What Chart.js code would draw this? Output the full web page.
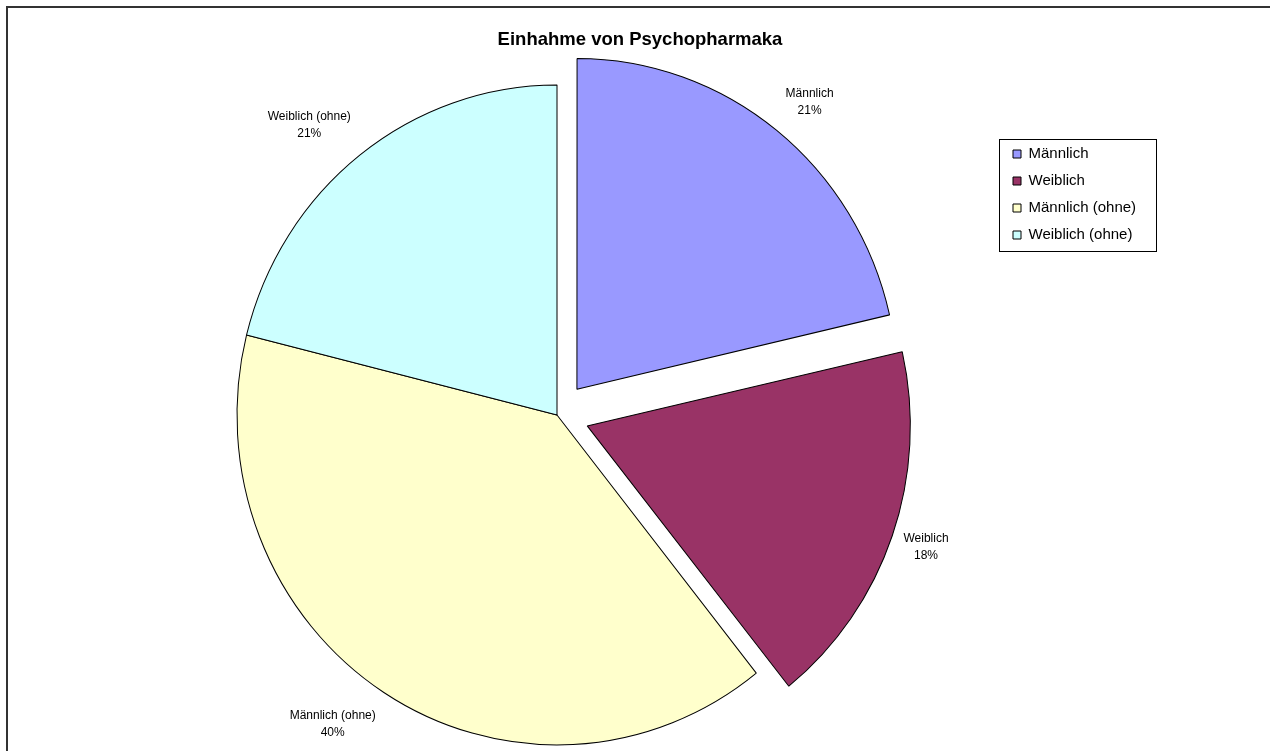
<!DOCTYPE html>
<html>
<head>
<meta charset="utf-8">
<script src="https://cdn.jsdelivr.net/npm/chart.js@4/dist/chart.umd.min.js"></script>
<style>
html, body { margin: 0; padding: 0; background: #ffffff; }
#wrap { width: 1270px; height: 751px; position: relative; overflow: hidden; }
canvas { display: block; }
</style>
</head>
<body>
<div id="wrap"><canvas id="c" width="1270" height="751"></canvas></div>
<script>
// ---- data ----
const categories = ['Männlich', 'Weiblich', 'Männlich (ohne)', 'Weiblich (ohne)'];
const shares = [21.4, 17.9, 39.6, 21.1];
const chartTitle = 'Einhahme von Psychopharmaka';

const FONT = "'Liberation Sans', Arial, Helvetica, sans-serif";
const PIE_SCALE_Y = 1.031; // the original pie is slightly taller than wide

// outer frame (top + left edges visible)
const framePlugin = {
  id: 'frame',
  beforeDraw(chart) {
    const ctx = chart.ctx;
    ctx.save();
    ctx.strokeStyle = '#333333';
    ctx.lineWidth = 2;
    ctx.strokeRect(7, 7, 1400, 900);
    ctx.restore();
  }
};

// place pie centre and legend like the Excel original
const layoutFix = {
  id: 'layoutFix',
  afterLayout(chart) {
    const ca = chart.chartArea;
    const cx = 557, cy = 415, half = 345;
    ca.left = cx - half; ca.right = cx + half;
    ca.top = cy - half; ca.bottom = cy + half;
    ca.width = 2 * half; ca.height = 2 * half;
    const lg = chart.legend;
    const h = lg.height;
    lg.left = 1001; lg.top = 134.5;
    lg.right = lg.left + lg.width; lg.bottom = lg.top + h;
  }
};

// slight vertical stretch of the pie
const ellipse = {
  id: 'ellipse',
  beforeDatasetsDraw(chart) {
    const ctx = chart.ctx;
    const ca = chart.chartArea;
    const cx = (ca.left + ca.right) / 2, cy = (ca.top + ca.bottom) / 2;
    ctx.save();
    ctx.translate(cx, cy);
    ctx.scale(1, PIE_SCALE_Y);
    ctx.translate(-cx, -cy);
  },
  afterDatasetsDraw(chart) {
    chart.ctx.restore();
  }
};

// legend frame
const legendBorder = {
  id: 'legendBorder',
  afterDraw(chart) {
    const lg = chart.legend;
    const ctx = chart.ctx;
    const pad = lg.options.labels.padding;
    const colW = lg.columnSizes && lg.columnSizes[0] ? lg.columnSizes[0].width : 120;
    ctx.save();
    ctx.strokeStyle = '#000000';
    ctx.lineWidth = 1;
    const x = Math.round(lg.left - 2) + 0.5;
    const y = Math.round(lg.top + 4) + 0.5;
    const w = Math.round(colW + 2 * pad + 10);
    ctx.strokeRect(x, y, w, 112);
    ctx.restore();
  }
};

// outside-end data labels
const sliceLabels = {
  id: 'sliceLabels',
  afterDatasetsDraw(chart) {
    const ctx = chart.ctx;
    const meta = chart.getDatasetMeta(0);
    const data = chart.data.datasets[0].data;
    const total = data.reduce((a, b) => a + b, 0);
    ctx.save();
    ctx.font = '12px ' + FONT;
    ctx.fillStyle = '#000000';
    ctx.textAlign = 'center';
    ctx.textBaseline = 'middle';
    const lineGap = 17;
    meta.data.forEach((arc, i) => {
      const p = arc.getProps(['x', 'y', 'startAngle', 'endAngle', 'outerRadius'], true);
      const off = (arc.options.offset || 0) / 4; // Chart.js translates arcs by offset/4
      const a = (p.startAngle + p.endAngle) / 2;
      const r = off + p.outerRadius + 15;
      const pct = Math.round(data[i] / total * 100) + '%';
      const name = chart.data.labels[i];
      const w = Math.max(ctx.measureText(name).width, ctx.measureText(pct).width);
      const h = 44;
      const cosA = Math.cos(a), sinA = Math.sin(a);
      const lx = p.x + cosA * r + Math.sign(cosA) * w / 2;
      const ly = p.y + sinA * r * PIE_SCALE_Y + sinA * h / 2;
      ctx.fillText(name, lx, ly - lineGap / 2);
      ctx.fillText(pct, lx, ly + lineGap / 2);
    });
    ctx.restore();
  }
};

new Chart(document.getElementById('c'), {
  type: 'pie',
  data: {
    labels: categories,
    datasets: [{
      data: shares,
      backgroundColor: ['#9999FF', '#993366', '#FFFFCC', '#CCFFFF'],
      borderColor: '#000000',
      borderWidth: 1,
      offset: [128, 128, 0, 0],
      hoverOffset: 0,
      radius: 320,
      clip: false
    }]
  },
  options: {
    responsive: false,
    animation: false,
    devicePixelRatio: 1,
    layout: { padding: { top: 20, left: 10, right: 0, bottom: 0 } },
    plugins: {
      title: {
        display: true,
        text: chartTitle,
        color: '#000000',
        font: { family: FONT, size: 18.5, weight: 'bold', lineHeight: 1.2 },
        padding: { top: 9, bottom: 10 }
      },
      legend: {
        display: true,
        position: 'right',
        align: 'start',
        labels: {
          color: '#000000',
          boxWidth: 8,
          boxHeight: 8,
          padding: 12,
          font: { family: FONT, size: 15 }
        }
      },
      tooltip: { enabled: false }
    },
    events: []
  },
  plugins: [framePlugin, layoutFix, ellipse, legendBorder, sliceLabels]
});
</script>
</body>
</html>
